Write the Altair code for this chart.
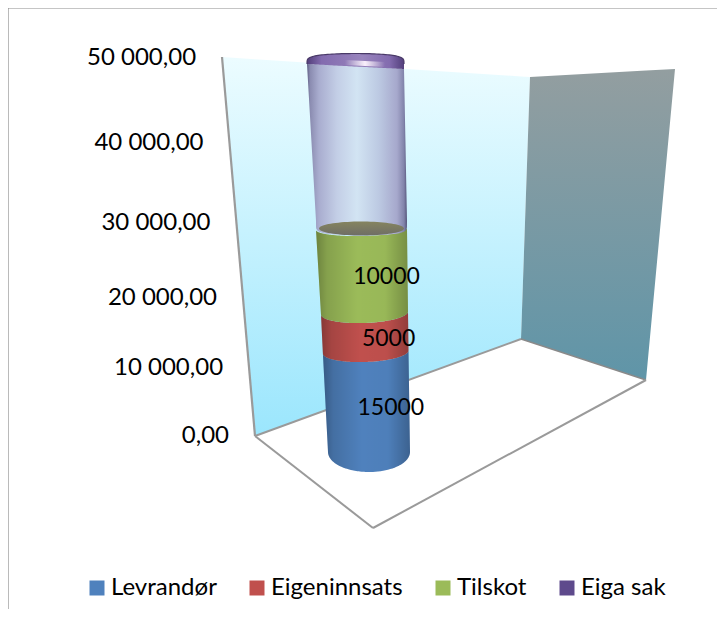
import altair as alt
import numpy as np
import pandas as pd

# ---- chart values
SERIES = ["Levrandør", "Eigeninnsats", "Tilskot", "Eiga sak"]
VALUES = [15000, 5000, 10000, 20000]
COLORS = ["#4f81bd", "#c0504d", "#9bbb59", "#5e4a8c"]
TICKS = [0, 10000, 20000, 30000, 40000, 50000]
TICK_LABELS = ["0,00", "10 000,00", "20 000,00", "30 000,00", "40 000,00", "50 000,00"]

# ---- perspective of the picture: value -> screen position
V = [0, 15000, 20000, 30000, 50000]
CY = [452, 352, 313, 229, 62]
CX = [369, 365.7, 364.5, 361.5, 355.5]
RX = [41, 42.8, 43.5, 45.5, 48.5]
RY = [20, 10, 10, 7, 6]
TILT = [0, 1.5, 1.5, 1, 2]
EDGE_Y = [436, 368, 298, 223, 143, 58]
FONT = "Lato"
f = lambda v, a: float(np.interp(v, V, a))
edge_y = lambda v: float(np.interp(v, TICKS, EDGE_Y))
edge_x = lambda y: 255 + (y - 436) * 33 / 379


def area(points):
    """x-monotone envelope of a polygon, for mark_area."""
    p = np.array(points, float)
    q = np.roll(p, -1, axis=0)
    rows = []
    for x in np.unique(np.round(p[:, 0], 3)):
        ys = []
        for (x0, y0), (x1, y1) in zip(p, q):
            lo, hi = min(x0, x1), max(x0, x1)
            if lo - 1e-3 <= x <= hi + 1e-3:
                if abs(x1 - x0) < 1e-6:
                    ys += [y0, y1]
                else:
                    ys.append(y0 + (y1 - y0) * (x - x0) / (x1 - x0))
        rows.append((x, min(ys), max(ys)))
    return pd.DataFrame(rows, columns=["x", "y", "y2"])


def arc(v, t0=np.pi, t1=0, ry=None, n=50):
    ts = np.linspace(t0, t1, n)
    r = f(v, RY) if ry is None else ry
    return [(f(v, CX) + f(v, RX) * np.cos(t),
             f(v, CY) + r * np.sin(t) - f(v, TILT) * np.cos(t)) for t in ts]


X = alt.X("x:Q", axis=None, scale=alt.Scale(domain=[8, 717], nice=False, zero=False))
Y = alt.Y("y:Q", axis=None, scale=alt.Scale(domain=[609, 8], nice=False, zero=False))
Y2 = alt.Y2("y2:Q")


def hgrad(stops):
    return alt.Gradient(gradient="linear", x1=0, x2=1, y1=0, y2=0,
                        stops=[alt.GradientStop(offset=o, color=c) for o, c in stops])


def vgrad(stops):
    return alt.Gradient(gradient="linear", x1=0, x2=0, y1=0, y2=1,
                        stops=[alt.GradientStop(offset=o, color=c) for o, c in stops])


def shape(points, fill, **kw):
    return alt.Chart(area(points)).mark_area(color=fill, **kw).encode(x=X, y=Y, y2=Y2)


def line(points, color="#9a9a9a", width=2):
    d = pd.DataFrame(points, columns=["x", "y"]).assign(i=range(len(points)))
    return alt.Chart(d).mark_line(color=color, strokeWidth=width).encode(x=X, y=Y, order="i:Q")


left_wall = shape([(222, 57), (530, 77), (521, 339), (255, 436)],
                  vgrad([(0, "#ecfcff"), (1, "#9be6fd")]))
right_wall = shape([(530, 77), (675, 69), (646, 380), (521, 339)],
                   vgrad([(0, "#939ea0"), (1, "#5f95a8")]))
frame = line([(8, 609), (8, 8), (717, 8)], "#8c8c8c", 1.2)
axis_line = line([(222, 57), (255, 436)], "#9a9a9a", 2.2)
floor = [line([(255, 436), (521, 339)]), line([(521, 339), (646, 380)], "#8a8a8a", 1.5),
         line([(255, 436), (373, 528)]), line([(373, 528), (646, 380)])]

# stacked cylinder segments, coloured through the series scale
cum = np.cumsum([0] + VALUES)
seg_rows = []
for name, v0, v1 in zip(SERIES[:3], cum[:3], cum[1:4]):
    poly = arc(v0) + arc(v1, 0, np.pi)
    seg_rows.append(area(poly).assign(series=name))
seg = pd.concat(seg_rows)
color = alt.Color("series:N", scale=alt.Scale(domain=SERIES, range=COLORS),
                  legend=alt.Legend(title=None, orient="none", legendX=77, legendY=568,
                                    direction="horizontal", columns=4, columnPadding=28,
                                    symbolType="square", symbolSize=225, symbolStrokeWidth=0,
                                    symbolOpacity=1, labelFont=FONT, labelFontSize=24,
                                    labelColor="#000000", labelOffset=2, labelLimit=0))
segments = alt.Chart(seg).mark_area(opacity=1).encode(x=X, y=Y, y2=Y2, color=color, detail="series:N")
shading = alt.Chart(seg).mark_area(color=hgrad([(0, "rgba(0,0,0,0.30)"), (0.12, "rgba(0,0,0,0.14)"),
                                                (0.45, "rgba(0,0,0,0)"), (0.75, "rgba(0,0,0,0.02)"),
                                                (1, "rgba(0,0,0,0.24)")])).encode(
    x=X, y=Y, y2=Y2, detail="series:N")

# transparent "Eiga sak" cylinder
top = cum[4]
base = cum[3]
ts = np.linspace(0, np.pi, 60)
bulge = [(f(base, CX) + 45.5 * np.cos(t), 221 + 14.5 * np.sin(t) ** 0.3) for t in ts]
ghost_poly = bulge + [(f(top, CX) - f(top, RX), 64), (f(top, CX) + f(top, RX), 69)]
ghost = shape(ghost_poly, hgrad([(0, "#5d5d82"), (0.03, "#8a8bb0"), (0.12, "#a9adcf"), (0.3, "#c3cee6"),
                                 (0.5, "#d2e4f3"), (0.72, "#bcc9e2"), (0.9, "#a6a8cc"),
                                 (0.97, "#8183aa"), (1, "#55557a")]))
ghost_bottom = shape([(f(base, CX) + 42.5 * np.cos(t), 228.5 + 7 * np.sin(t)) for t in np.linspace(0, 2 * np.pi, 80)],
                     vgrad([(0, "#85845f"), (1, "#6f6e66")]))

cx_top, rx_top, cy_top = f(top, CX), f(top, RX), 63
top_arc = [(cx_top + rx_top * np.cos(t), cy_top + 1 - 10.5 * abs(np.sin(t)) ** 0.45) for t in np.linspace(np.pi, 2 * np.pi, 60)]
band_poly = top_arc + [(cx_top + rx_top, 69), (cx_top - rx_top, 64)]
band = alt.Chart(area(band_poly).assign(series=SERIES[3])).mark_area().encode(x=X, y=Y, y2=Y2, color=color)
band_shade = shape(band_poly, hgrad([(0, "rgba(60,40,90,0.35)"), (0.15, "rgba(200,170,240,0.35)"),
                                     (0.57, "rgba(225,205,250,0.45)"), (0.85, "rgba(200,170,240,0.35)"),
                                     (1, "rgba(60,40,90,0.3)")]))
highlight = shape([(345, 60), (385, 62), (385, 67), (345, 65)],
                  hgrad([(0, "rgba(255,255,255,0)"), (0.5, "rgba(255,245,255,0.95)"), (1, "rgba(255,255,255,0)")]))
top_line = line(top_arc, "#4a3a68", 1.2)

# legend swatch detail of "Eiga sak"
icon_x, icon_y = 567, 587
icon = [shape([(icon_x - 4, icon_y - 5), (icon_x + 4, icon_y - 5), (icon_x, icon_y)], "#b3a6d4"),
        shape([(icon_x - 4, icon_y + 5), (icon_x + 4, icon_y + 5), (icon_x, icon_y)], "#b3a6d4")]

# labels
tick_df = pd.DataFrame({"label": TICK_LABELS, "y": [edge_y(v) for v in TICKS]})
tick_df["x"] = [edge_x(y) - 26 for y in tick_df["y"]]
ticks = alt.Chart(tick_df).mark_text(align="right", baseline="middle", font=FONT, fontSize=24, color="#000").encode(
    x=X, y=Y, text="label:N")
mid = (cum[:3] + cum[1:4]) / 2
lab_df = pd.DataFrame({"label": [str(v) for v in VALUES[:3]],
                       "x": [f(m, CX) + 23.5 for m in mid], "y": [f(m, CY) + 6 for m in mid]})
labels = alt.Chart(lab_df).mark_text(align="center", baseline="middle", font=FONT, fontSize=23, color="#000").encode(
    x=X, y=Y, text="label:N")

chart = alt.layer(left_wall, right_wall, frame, axis_line, *floor, segments, shading, ghost, ghost_bottom,
                  band, band_shade, highlight, top_line, ticks, labels, *icon).properties(
    width=709, height=601, padding=0,
    autosize=alt.AutoSizeParams(type="none", contains="padding")
).configure_view(stroke=None)

chart.save("out.html", embed_options={"renderer": "svg", "actions": False})
